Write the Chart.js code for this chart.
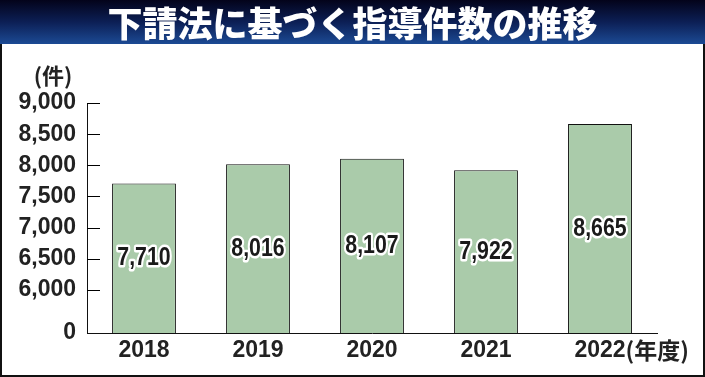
<!DOCTYPE html>
<html>
<head>
<meta charset="utf-8">
<script src="https://cdn.jsdelivr.net/npm/chart.js@4.4.1/dist/chart.umd.min.js"></script>
<style>
    html, body { margin: 0; padding: 0; background: #fff; }
    #guidanceChart { display: block; }
</style>
</head>
<body>
<canvas id="guidanceChart" width="705" height="377"></canvas>
<script>
var chartTitle = "下請法に基づく指導件数の推移";
var unitLabel = "(件)";
var yearSuffix = "(年度)";
var years = ["2018", "2019", "2020", "2021", "2022"];
var guidanceCounts = [7710, 8016, 8107, 7922, 8665];
var yTickValues = [6000, 6500, 7000, 7500, 8000, 8500, 9000];
var axisBreakValue = 5310; // bottom of the broken axis, labelled "0"

var numberFont = "'Liberation Sans', Arial, sans-serif";
var cjkFont = "'Noto Sans CJK JP', 'Noto Sans', sans-serif";

function format_count(v) {
    return String(v).replace(/\B(?=(\d{3})+(?!\d))/g, ",");
}

var framePlugin = {
    id: "framePlugin",
    beforeDraw: function (chart) {
        var ctx = chart.ctx;
        ctx.save();
        ctx.fillStyle = "#ffffff";
        ctx.fillRect(0, 0, chart.width, chart.height);
        var grad = ctx.createLinearGradient(0, 0, 0, 44);
        grad.addColorStop(0, "#03031a");
        grad.addColorStop(0.5, "#0c1f55");
        grad.addColorStop(1, "#1c4a94");
        ctx.fillStyle = grad;
        ctx.fillRect(0, 0, chart.width, 44);
        ctx.fillStyle = "#ffffff";
        ctx.font = "900 35px " + cjkFont;
        ctx.textAlign = "center";
        ctx.textBaseline = "middle";
        ctx.fillText(chartTitle, chart.width / 2, 24);
        ctx.restore();
    },
    afterDraw: function (chart) {
        var ctx = chart.ctx;
        var yScale = chart.scales.y;
        var xScale = chart.scales.x;
        var area = chart.chartArea;
        ctx.save();
        // inward tick marks
        ctx.strokeStyle = "#000";
        ctx.lineWidth = 1;
        yTickValues.forEach(function (v) {
            var y = Math.round(yScale.getPixelForValue(v)) + 0.5;
            ctx.beginPath();
            ctx.moveTo(area.left, y);
            ctx.lineTo(area.left + 13, y);
            ctx.stroke();
        });
        // value labels in the middle of each bar (condensed)
        ctx.font = "bold 26px " + numberFont;
        ctx.textAlign = "center";
        ctx.textBaseline = "middle";
        ctx.lineJoin = "round";
        guidanceCounts.forEach(function (v, i) {
            var x = xScale.getPixelForValue(i);
            var y = (yScale.getPixelForValue(v) + yScale.getPixelForValue(axisBreakValue)) / 2;
            var text = format_count(v);
            ctx.save();
            ctx.translate(x, y);
            ctx.scale(0.82, 1);
            ctx.strokeStyle = "#ffffff";
            ctx.lineWidth = 5;
            ctx.strokeText(text, 0, 0);
            ctx.fillStyle = "#1a1a1a";
            ctx.fillText(text, 0, 0);
            ctx.restore();
        });
        // unit label
        ctx.fillStyle = "#222";
        ctx.font = "bold 22px " + cjkFont;
        ctx.textAlign = "center";
        ctx.fillText(unitLabel, 53, 76);
        // year suffix after the last category
        var lastX = xScale.getPixelForValue(years.length - 1);
        ctx.font = "bold 23px " + numberFont;
        var w = ctx.measureText(years[years.length - 1]).width;
        ctx.font = "bold 23px " + cjkFont;
        ctx.textAlign = "left";
        ctx.fillText(yearSuffix, lastX + w / 2, 350);
        // outer frame
        ctx.fillStyle = "#111";
        ctx.fillRect(0, 44, 2, chart.height - 44);
        ctx.fillRect(chart.width - 2, 44, 2, chart.height - 44);
        ctx.fillRect(0, chart.height - 2, chart.width, 2);
        ctx.restore();
    }
};

var guidanceChart = new Chart("guidanceChart", {
    type: "bar",
    data: {
        labels: years,
        datasets: [{
            data: guidanceCounts,
            backgroundColor: "#aacbaa",
            borderColor: "#111",
            borderWidth: 1,
            barPercentage: 0.56,
            categoryPercentage: 1.0,
        }],
    },
    options: {
        responsive: false,
        animation: false,
        devicePixelRatio: 1,
        layout: {
            padding: { top: 103, right: 48, bottom: 0, left: 0 },
        },
        plugins: {
            legend: { display: false },
            title: { display: false },
            tooltip: { enabled: false },
        },
        scales: {
            x: {
                grid: { display: true, drawOnChartArea: false, drawTicks: false },
                border: { display: true, color: "#111", width: 1 },
                ticks: {
                    color: "#222",
                    padding: 4,
                    font: { family: numberFont, size: 23, weight: "bold" },
                },
                afterFit: function (scale) {
                    scale.height = 44;
                },
            },
            y: {
                min: axisBreakValue,
                max: 9000,
                grid: { display: true, drawOnChartArea: false, drawTicks: false },
                border: { display: true, color: "#111", width: 1 },
                afterBuildTicks: function (scale) {
                    scale.ticks = [axisBreakValue].concat(yTickValues).map(function (v) {
                        return { value: v };
                    });
                },
                ticks: {
                    color: "#222",
                    padding: 11,
                    font: { family: numberFont, size: 23, weight: "bold" },
                    callback: function (value) {
                        if (value === axisBreakValue) {
                            return "0";
                        }
                        return format_count(value);
                    },
                },
                afterFit: function (scale) {
                    scale.width = 87;
                },
            },
        },
    },
    plugins: [framePlugin],
});
</script>
</body>
</html>
